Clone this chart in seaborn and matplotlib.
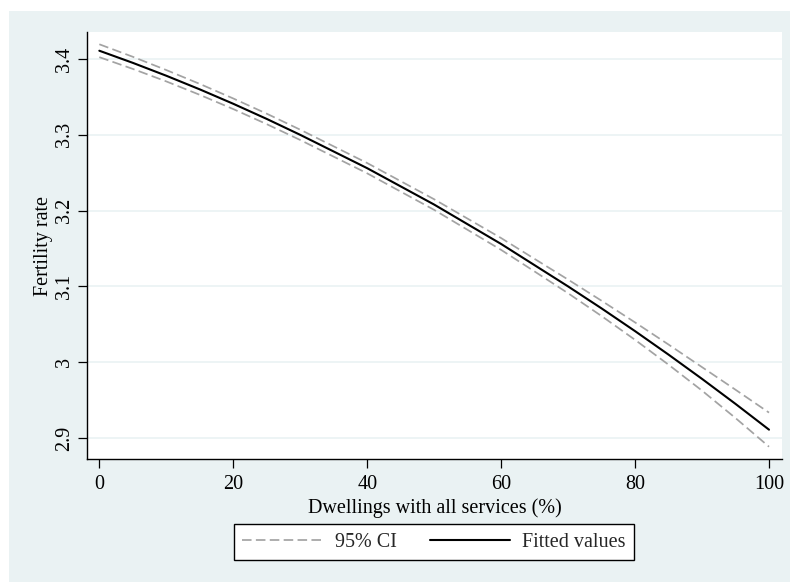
import pandas as pd
import matplotlib.pyplot as plt
import seaborn as sns
from matplotlib.patches import Rectangle

# Values
dwellings = [0, 5, 10, 15, 20, 25, 30, 35, 40, 45, 50,
             55, 60, 65, 70, 75, 80, 85, 90, 95, 100]
fitted = [3.411, 3.395, 3.378, 3.360, 3.341, 3.321, 3.300, 3.278, 3.256, 3.232, 3.208,
          3.182, 3.156, 3.128, 3.100, 3.071, 3.041, 3.010, 2.978, 2.945, 2.911]
ci_upper = [3.4195, 3.403, 3.3855, 3.3672, 3.348, 3.3279, 3.3068, 3.2848, 3.2628, 3.2389, 3.215,
            3.1894, 3.1638, 3.1363, 3.109, 3.0811, 3.0525, 3.0233, 2.9935, 2.9637, 2.9335]
ci_lower = [3.4025, 3.387, 3.3705, 3.3528, 3.334, 3.3141, 3.2932, 3.2712, 3.2492, 3.2251, 3.201,
            3.1746, 3.1482, 3.1197, 3.091, 3.0609, 3.0295, 2.9967, 2.9625, 2.9263, 2.8885]
x_ticks = [0, 20, 40, 60, 80, 100]
y_ticks = [2.9, 3.0, 3.1, 3.2, 3.3, 3.4]
y_tick_labels = ["2.9", "3", "3.1", "3.2", "3.3", "3.4"]

df = pd.DataFrame({"x": dwellings, "fit": fitted, "hi": ci_upper, "lo": ci_lower})

sns.set_style("white")
plt.rcParams["font.family"] = ["Liberation Serif", "DejaVu Serif"]
fs = 14.5

W, H = 792, 582
fig = plt.figure(figsize=(W / 100, H / 100), dpi=100)
fig.patch.set_facecolor("white")
fig.add_artist(Rectangle((9 / W, 0), 781 / W, 571 / H, transform=fig.transFigure,
                         facecolor="#EAF2F3", edgecolor="none", zorder=-5))

ax = fig.add_axes([87 / W, 1 - 459 / H, (782 - 87) / W, (459 - 32) / H])
ax.set_facecolor("white")

ci_color = "#A3A3A3"
dash = (0, (5.5, 2.5))
sns.lineplot(data=df, x="x", y="hi", ax=ax, color=ci_color, lw=1.25, linestyle=dash,
             label="95% CI", zorder=2)
sns.lineplot(data=df, x="x", y="lo", ax=ax, color=ci_color, lw=1.25, linestyle=dash,
             label="_nolegend_", zorder=2)
sns.lineplot(data=df, x="x", y="fit", ax=ax, color="black", lw=1.5,
             label="Fitted values", zorder=3)

ax.set_xlim(-1.84, 101.94)
ax.set_ylim(2.8723, 3.4357)
ax.set_xticks(x_ticks)
ax.set_xticklabels([str(t) for t in x_ticks])
ax.set_yticks(y_ticks)
ax.set_yticklabels(y_tick_labels, rotation=90, va="center")

ax.yaxis.grid(True, color="#EAF2F3", lw=1.2)
ax.xaxis.grid(False)
ax.set_axisbelow(True)

for s in ["top", "right"]:
    ax.spines[s].set_visible(False)
for s in ["left", "bottom"]:
    ax.spines[s].set_color("black")
    ax.spines[s].set_linewidth(1)

ax.tick_params(axis="both", which="major", bottom=True, left=True, direction="out",
               length=6.5, width=0.9, color="black", labelsize=fs, labelcolor="black")
ax.tick_params(axis="x", pad=5)
ax.tick_params(axis="y", pad=3)

ax.set_xlabel("Dwellings with all services (%)", fontsize=fs, color="black", labelpad=3)
ax.set_ylabel("Fertility rate", fontsize=fs, color="black")
ax.yaxis.set_label_coords(-0.049, 0.5)

leg = ax.legend(loc="center", bbox_to_anchor=(434 / W, 1 - 542 / H),
                bbox_transform=fig.transFigure, ncol=2, frameon=True, fancybox=False,
                edgecolor="black", framealpha=1, fontsize=fs, handlelength=4.0,
                handletextpad=0.6, columnspacing=1.65, borderpad=0.4)
leg.get_frame().set_linewidth(1)

fig.savefig("out.png", dpi=100, facecolor=fig.get_facecolor())
